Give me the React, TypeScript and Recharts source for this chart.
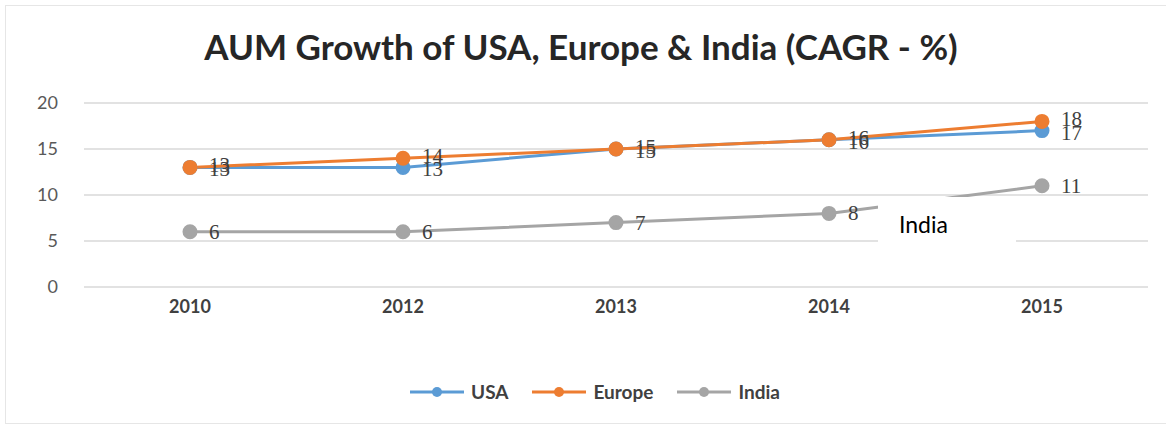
import { LineChart, Line, XAxis, YAxis, CartesianGrid, LabelList } from "recharts";

const years = ["2010", "2012", "2013", "2014", "2015"];
const usa = [13, 13, 15, 16, 17];
const europe = [13, 14, 15, 16, 18];
const india = [6, 6, 7, 8, 11];
const yTicks = [0, 5, 10, 15, 20];

const seriesInfo = [
  { key: "usa", name: "USA", color: "#5B9BD5" },
  { key: "europe", name: "Europe", color: "#ED7D31" },
  { key: "india", name: "India", color: "#A5A5A5" },
];

const data = years.map((year, i) => ({ year, usa: usa[i], europe: europe[i], india: india[i] }));

const font = "Lato, 'Open Sans', sans-serif";

const makeLabel = (dy: number) => (props: any) => {
  const { x, y, value } = props;
  return (
    <text x={x + 19} y={y + dy} dominantBaseline="central" fill="#404040" fontSize={21} fontFamily="'Liberation Serif', serif">
      {value}
    </text>
  );
};

// legend drawn in html so it doesn't eat into the plot height
const ChartLegend = () => (
  <div style={{ position: "absolute", top: 380, left: 0, width: 1190, display: "flex", justifyContent: "center", gap: 24, fontFamily: font, fontWeight: 700, fontSize: 19, color: "#404040" }}>
    {seriesInfo.map((s) => (
      <div key={s.key} style={{ display: "flex", alignItems: "center", gap: 7 }}>
        <svg width={54} height={12}>
          <line x1={0} y1={6} x2={54} y2={6} stroke={s.color} strokeWidth={3} />
          <circle cx={27} cy={6} r={5} fill={s.color} />
        </svg>
        <span>{s.name}</span>
      </div>
    ))}
  </div>
);

export default function App() {
  return (
    <div style={{ position: "absolute", top: 0, left: 0, width: 1166, height: 430, background: "#fff", overflow: "hidden" }}>
      <div style={{ position: "absolute", left: 5, top: 5, width: 1200, height: 417, border: "1px solid #e6e6e6" }} />
      <div style={{ position: "absolute", top: 25, left: 0, width: 1162, textAlign: "center", fontFamily: font, fontWeight: 700, fontSize: 35, color: "#262626" }}>
        AUM Growth of USA, Europe &amp; India (CAGR - %)
      </div>
      <div style={{ position: "absolute", top: 0, left: 0 }}>
        <LineChart width={1166} height={430} data={data} margin={{ top: 103, right: 18, bottom: 113, left: 0 }}>
          <CartesianGrid vertical={false} stroke="#d9d9d9" strokeWidth={1.5} />
          <XAxis dataKey="year" axisLine={false} tickLine={false} padding={{ left: 106, right: 106 }} tick={{ fontSize: 18, fontWeight: 700, fill: "#404040", fontFamily: font }} dy={5} />
          <YAxis domain={[0, 20]} ticks={yTicks} width={84} axisLine={false} tickLine={false} tick={{ fontSize: 18, fill: "#595959", fontFamily: font }} dx={-18} />
          <Line dataKey="india" name="India" stroke="#A5A5A5" strokeWidth={3} dot={{ r: 6, fill: "#A5A5A5", stroke: "#A5A5A5" }} isAnimationActive={false}>
            <LabelList dataKey="india" content={makeLabel(0)} />
          </Line>
          <Line dataKey="usa" name="USA" stroke="#5B9BD5" strokeWidth={3} dot={{ r: 6, fill: "#5B9BD5", stroke: "#5B9BD5" }} isAnimationActive={false}>
            <LabelList dataKey="usa" content={makeLabel(2)} />
          </Line>
          <Line dataKey="europe" name="Europe" stroke="#ED7D31" strokeWidth={3} dot={{ r: 6, fill: "#ED7D31", stroke: "#ED7D31" }} isAnimationActive={false}>
            <LabelList dataKey="europe" content={makeLabel(-2)} />
          </Line>
        </LineChart>
      </div>
      <ChartLegend />
      <div style={{ position: "absolute", left: 878, top: 197, width: 138, height: 64, background: "#fff" }}>
        <div style={{ position: "absolute", left: 21, top: 13, fontFamily: font, fontSize: 23, color: "#000" }}>India</div>
      </div>
    </div>
  );
}
